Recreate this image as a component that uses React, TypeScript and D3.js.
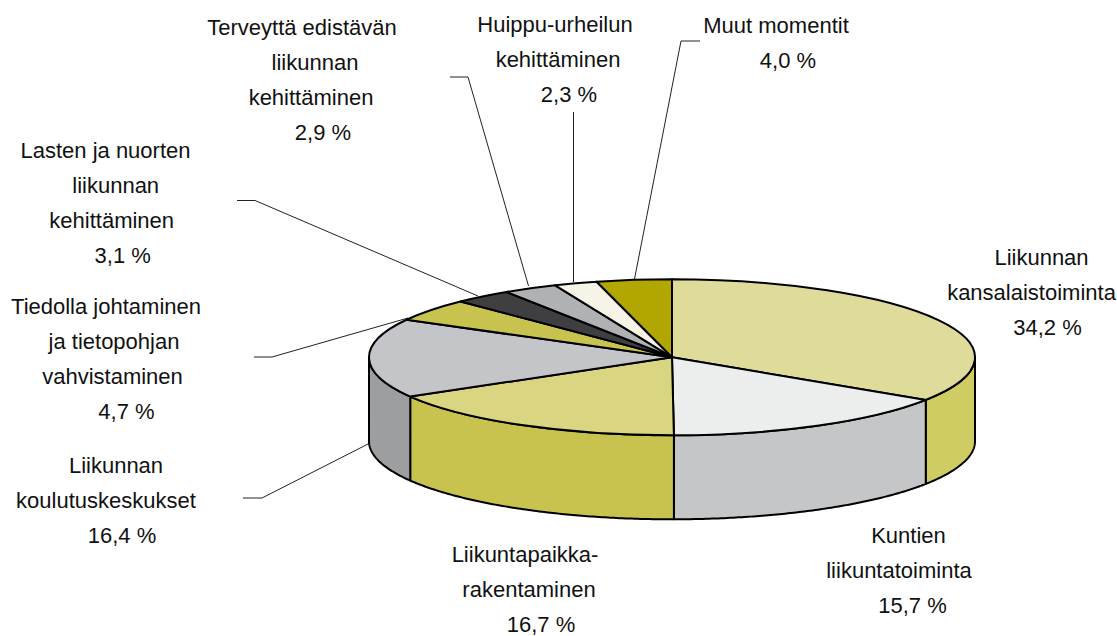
import React from 'react';
import * as d3 from 'd3';

// slices in drawing order, clockwise from 12 o'clock
const names = [
  'Liikunnan kansalaistoiminta', 'Kuntien liikuntatoiminta', 'Liikuntapaikka-rakentaminen',
  'Liikunnan koulutuskeskukset', 'Tiedolla johtaminen ja tietopohjan vahvistaminen',
  'Lasten ja nuorten liikunnan kehittäminen', 'Terveyttä edistävän liikunnan kehittäminen',
  'Huippu-urheilun kehittäminen', 'Muut momentit',
];
const shares = [34.2, 15.7, 16.7, 16.4, 4.7, 3.1, 2.9, 2.3, 4.0];
const topColors = ['#dfdc9b', '#eceeed', '#d9d580', '#c4c5c8', '#c8c24e', '#3f3f41', '#b0b1b3', '#f5f4e6', '#b2a700'];
const sideColors = ['#d0cc64', '#c5c6c8', '#c8c24e', '#9d9ea0', '#c8c24e', '#3f3f41', '#b0b1b3', '#f5f4e6', '#b2a700'];

// label lines, x is the centre of each line, y the baseline of the first
const labels = [
  { lines: ['Liikunnan', 'kansalaistoiminta', '34,2 %'], x: [1041.5, 1031.5, 1047.5], y: 265 },
  { lines: ['Kuntien', 'liikuntatoiminta', '15,7 %'], x: [908.5, 899, 912.5], y: 543 },
  { lines: ['Liikuntapaikka-', 'rakentaminen', '16,7 %'], x: [525, 529, 541], y: 562 },
  { lines: ['Liikunnan', 'koulutuskeskukset', '16,4 %'], x: [116, 106, 122], y: 473 },
  { lines: ['Tiedolla johtaminen', 'ja tietopohjan', 'vahvistaminen', '4,7 %'], x: [106, 114, 112.5, 126.5], y: 314 },
  { lines: ['Lasten ja nuorten', 'liikunnan', 'kehittäminen', '3,1 %'], x: [105.5, 115.7, 111.7, 122.7], y: 158 },
  { lines: ['Terveyttä edistävän', 'liikunnan', 'kehittäminen', '2,9 %'], x: [302, 315, 311, 323], y: 35 },
  { lines: ['Huippu-urheilun', 'kehittäminen', '2,3 %'], x: [555, 558, 569], y: 32 },
  { lines: ['Muut momentit', '4,0 %'], x: [776, 788], y: 33 },
];

const leaders: [number, number][][] = [
  [[634.5, 279], [681, 41], [700, 41]],
  [[573.5, 282], [573.5, 112]],
  [[528.5, 286], [468, 77], [450, 77]],
  [[478, 296], [255, 200.5], [237, 200.5]],
  [[408, 318], [272, 357], [254, 357]],
  [[370, 443], [262, 498], [243, 498]],
];

const lineStep = 35;
const cx = 672;
const cy = 357.3;
const rx = 303;
const ry = 78;
const depth = 84;

export default function App() {
  const pie = d3.pie<number>().sort(null)(shares);
  const arc = d3.arc<d3.PieArcDatum<number>>().innerRadius(0).outerRadius(rx);
  const side = d3.area<number>()
    .x(a => rx * Math.sin(a))
    .y0(a => -ry * Math.cos(a))
    .y1(a => -ry * Math.cos(a) + depth);

  // only the part of a slice on the front half of the ellipse has a wall
  const wall = (d: d3.PieArcDatum<number>) => {
    const a0 = Math.max(d.startAngle, Math.PI / 2);
    const a1 = Math.min(d.endAngle, (3 * Math.PI) / 2);
    if (a1 <= a0) return null;
    return side(d3.range(a0, a1, 0.01).concat(a1));
  };

  return (
    <svg width={1117} height={636} style={{ position: 'absolute', left: 0, top: 0, background: '#fff' }}>
      <g fill="none" stroke="#222" strokeWidth={1}>
        {leaders.map((l, i) => (
          <path key={i} d={d3.line()(l) as string} />
        ))}
      </g>
      <g transform={`translate(${cx},${cy})`}>
        {pie.map((d, i) => {
          const w = wall(d);
          return w ? (
            <path key={i} d={w} fill={sideColors[i]} stroke="#000" strokeWidth={2} strokeLinejoin="round" />
          ) : null;
        })}
        <g transform={`scale(1,${ry / rx})`}>
          {pie.map((d, i) => (
            <path
              key={i}
              d={arc(d) as string}
              fill={topColors[i]}
              stroke="#000"
              strokeWidth={2}
              strokeLinejoin="round"
              vectorEffect="non-scaling-stroke"
            />
          ))}
        </g>
      </g>
      <g fontFamily="'Liberation Sans', Arial, sans-serif" fontSize={22} fill="#111" textAnchor="middle">
        {labels.map((l, i) => (
          <text key={names[i]}>
            {l.lines.map((t, j) => (
              <tspan key={j} x={l.x[j]} y={l.y + j * lineStep}>{t}</tspan>
            ))}
          </text>
        ))}
      </g>
    </svg>
  );
}
